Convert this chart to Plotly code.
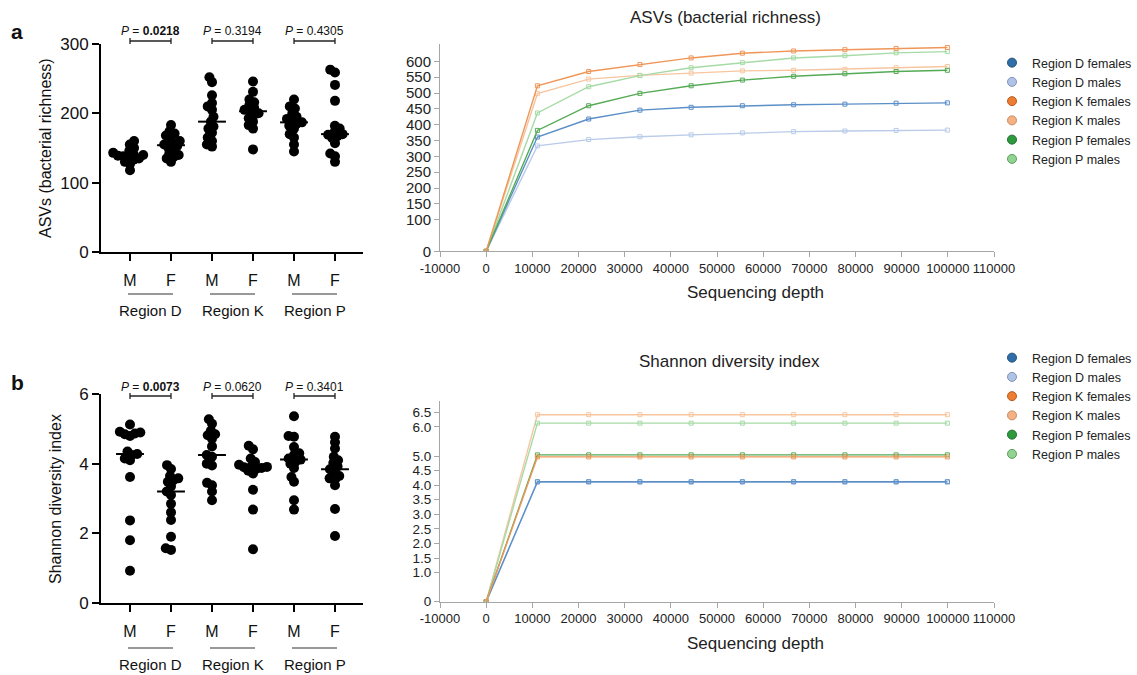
import numpy as np
import plotly.graph_objects as go

W, H = 1137, 675
FONT = "Liberation Sans, Arial, sans-serif"
NARROW = "Liberation Sans Narrow, Liberation Sans, Arial, sans-serif"

# ---------------- data: dot plots ----------------
categories = ["M", "F", "M", "F", "M", "F"]
regions = ["Region D", "Region K", "Region P"]

asv_D_M = [160, 155, 150, 146, 143, 141, 140, 139, 138, 137, 135, 133, 130, 127, 118]
asv_D_F = [183, 174, 171, 168, 165, 160, 157, 155, 153, 150, 147, 142, 140, 137, 135, 130]
asv_K_M = [252, 245, 226, 215, 210, 205, 195, 188, 181, 178, 172, 165, 160, 155, 152]
asv_K_F = [246, 231, 220, 216, 212, 208, 205, 203, 200, 197, 193, 188, 183, 178, 148]
asv_P_M = [220, 210, 207, 200, 195, 192, 190, 187, 185, 182, 178, 170, 165, 155, 145]
asv_P_F = [263, 259, 241, 218, 182, 178, 174, 170, 169, 167, 164, 157, 142, 138, 130]

sh_D_M = [5.13, 4.92, 4.90, 4.87, 4.85, 4.80, 4.35, 4.28, 4.25, 4.15, 4.10, 3.62, 2.37, 1.80, 0.92]
sh_D_F = [3.96, 3.85, 3.65, 3.58, 3.52, 3.48, 3.35, 3.20, 3.10, 2.85, 2.60, 2.38, 1.90, 1.57, 1.52]
sh_K_M = [5.28, 5.15, 4.95, 4.85, 4.82, 4.72, 4.50, 4.25, 4.20, 4.00, 3.95, 3.45, 3.38, 3.20, 2.95]
sh_K_F = [4.52, 4.42, 4.15, 4.05, 3.97, 3.93, 3.91, 3.90, 3.88, 3.85, 3.80, 3.72, 3.25, 2.68, 1.54]
sh_P_M = [5.37, 4.80, 4.78, 4.48, 4.30, 4.25, 4.15, 4.06, 4.00, 3.88, 3.62, 3.48, 2.95, 2.68, 4.12]
sh_P_F = [4.78, 4.62, 4.44, 4.20, 4.10, 4.02, 3.92, 3.84, 3.78, 3.65, 3.58, 3.55, 3.38, 2.70, 1.92]

p_asv = ["0.0218", "0.3194", "0.4305"]
p_asv_sig = [True, False, False]
p_sh = ["0.0073", "0.0620", "0.3401"]
p_sh_sig = [True, False, False]

asv_ticks = [0, 100, 200, 300]
sh_ticks = [0, 2, 4, 6]

# ---------------- data: rarefaction curves ----------------
depth = [0, 11100, 22200, 33300, 44400, 55500, 66600, 77700, 88800, 99900]
series_names = ["Region D females", "Region D males", "Region K females",
                "Region K males", "Region P females", "Region P males"]

rare_asv_D_f = [0, 361, 418, 446, 455, 460, 463, 465, 468, 469]
rare_asv_D_m = [0, 333, 353, 362, 368, 374, 378, 380, 382, 383]
rare_asv_K_f = [0, 523, 568, 590, 611, 626, 633, 637, 641, 644]
rare_asv_K_m = [0, 498, 544, 556, 563, 570, 572, 575, 580, 584]
rare_asv_P_f = [0, 382, 460, 499, 523, 541, 553, 561, 568, 572]
rare_asv_P_m = [0, 437, 520, 555, 580, 596, 611, 618, 627, 631]

rare_sh_D_f = [0, 4.12, 4.12, 4.12, 4.12, 4.12, 4.12, 4.12, 4.12, 4.12]
rare_sh_D_m = [0, 4.10, 4.10, 4.10, 4.10, 4.10, 4.10, 4.10, 4.10, 4.10]
rare_sh_K_f = [0, 4.97, 4.97, 4.97, 4.97, 4.97, 4.97, 4.97, 4.97, 4.97]
rare_sh_K_m = [0, 6.42, 6.42, 6.42, 6.42, 6.42, 6.42, 6.42, 6.42, 6.42]
rare_sh_P_f = [0, 5.04, 5.04, 5.04, 5.04, 5.04, 5.04, 5.04, 5.04, 5.04]
rare_sh_P_m = [0, 6.13, 6.13, 6.13, 6.13, 6.13, 6.13, 6.13, 6.13, 6.13]

depth_ticks = list(range(-10000, 110001, 10000))
depth_ticktext = [str(v) for v in depth_ticks]
rare_asv_ticks = [0, 100, 150, 200, 250, 300, 350, 400, 450, 500, 550, 600]
rare_sh_ticks = [0, 1.0, 1.5, 2.0, 2.5, 3.0, 3.5, 4.0, 4.5, 5.0, 6.0, 6.5]
rare_sh_ticktext = ["0", "1.0", "1.5", "2.0", "2.5", "3.0", "3.5", "4.0", "4.5", "5.0", "6.0", "6.5"]

line_colors = ["#5b8fc7", "#b9cbe8", "#ef9658", "#f7c6a0", "#55aa55", "#a6daa6"]
legend_fill = ["#2f6ea8", "#aec3e6", "#ed7d31", "#f4b183", "#2e9a3e", "#92d292"]
legend_edge = ["#1f4e79", "#7f93b5", "#b85a1e", "#c98a5c", "#1d6b2a", "#5a9e5a"]

# ---------------- layout geometry (pixels) ----------------
def px(x):
    return x / W

def py(y):
    return 1 - y / H

LX = (101, 363)
A_Y = (44, 252)
B_Y = (394.3, 602.7)
RX = (440, 994)
RA_Y = (44, 251.3)
RB_Y = (400.7, 601.7)
CAT0, CATSTEP = 130, 41.0
xr_left = [-(CAT0 - LX[0]) / CATSTEP, 5 + (LX[1] - (CAT0 + 5 * CATSTEP)) / CATSTEP]


def swarm(vals, px_per_val, px_per_cat, d):
    ys = np.asarray(vals, float) * px_per_val
    order = np.argsort(ys)
    placed = []
    xs = np.zeros(len(ys))
    for i in order:
        y = ys[i]
        ivs = []
        for (x2, y2) in placed:
            dy = abs(y - y2)
            if dy < d:
                w = np.sqrt(d * d - dy * dy)
                ivs.append((x2 - w, x2 + w))
        cands = [0.0] + [a for a, b in ivs] + [b for a, b in ivs]
        cands.sort(key=lambda c: (abs(c), c))
        for c in cands:
            if all(not (a + 1e-6 < c < b - 1e-6) for a, b in ivs):
                xs[i] = c
                break
        placed.append((xs[i], y))
    return xs / px_per_cat


fig = go.Figure()

groups_a = [asv_D_M, asv_D_F, asv_K_M, asv_K_F, asv_P_M, asv_P_F]
groups_b = [sh_D_M, sh_D_F, sh_K_M, sh_K_F, sh_P_M, sh_P_F]

for groups, xa, ya, yrng, ypix in [
    (groups_a, "x", "y", 300, A_Y[1] - A_Y[0]),
    (groups_b, "x2", "y2", 6, B_Y[1] - B_Y[0]),
]:
    for gi, vals in enumerate(groups):
        off = swarm(vals, ypix / yrng, CATSTEP, 5.5)
        fig.add_trace(go.Scatter(
            x=gi + off, y=vals, mode="markers", xaxis=xa, yaxis=ya,
            marker=dict(size=10, color="black", line=dict(width=0)),
            showlegend=False, hoverinfo="y", cliponaxis=False))
        med = float(np.median(vals))
        fig.add_trace(go.Scatter(
            x=[gi - 0.34, gi + 0.34], y=[med, med], mode="lines",
            xaxis=xa, yaxis=ya, line=dict(color="black", width=2),
            showlegend=False, hoverinfo="skip"))

asv_series = [rare_asv_D_f, rare_asv_D_m, rare_asv_K_f, rare_asv_K_m, rare_asv_P_f, rare_asv_P_m]
sh_series = [rare_sh_D_f, rare_sh_D_m, rare_sh_K_f, rare_sh_K_m, rare_sh_P_f, rare_sh_P_m]
draw_order = [1, 0, 3, 5, 4, 2]

for series, xa, ya, leg in [(asv_series, "x3", "y3", "legend"), (sh_series, "x4", "y4", "legend2")]:
    for i in draw_order:
        fig.add_trace(go.Scatter(
            x=depth, y=series[i], mode="lines+markers", xaxis=xa, yaxis=ya,
            name=series_names[i], line=dict(color=line_colors[i], width=1.4),
            marker=dict(symbol="square-open", size=4, color=line_colors[i], line=dict(width=1)),
            showlegend=False))
    for i in range(6):
        fig.add_trace(go.Scatter(
            x=[None], y=[None], mode="markers", xaxis=xa, yaxis=ya, legend=leg,
            name=series_names[i],
            marker=dict(symbol="circle", size=9, color=legend_fill[i],
                        line=dict(color=legend_edge[i], width=1))))

left_x = dict(range=xr_left, showline=True, linecolor="black", linewidth=2,
              ticks="outside", ticklen=7, tickwidth=2, tickcolor="black",
              tickvals=list(range(6)), ticktext=categories, showgrid=False, zeroline=False,
              tickfont=dict(family=FONT, size=16, color="#111"), ticklabelstandoff=6,
              fixedrange=True, automargin=False)
left_y = dict(showline=True, linecolor="black", linewidth=2, ticks="outside",
              ticklen=7, tickwidth=2, tickcolor="black", showgrid=False, zeroline=False,
              tickfont=dict(family=FONT, size=17, color="#111"), automargin=False)
right_x = dict(range=[-10000, 110000], showline=True, linecolor="#a6a6a6", linewidth=1,
               ticks="outside", ticklen=5, tickcolor="#a6a6a6", tickvals=depth_ticks,
               ticktext=depth_ticktext, showgrid=False, zeroline=False, tickangle=0,
               tickfont=dict(family=FONT, size=13, color="#222"), automargin=False)
right_y = dict(showline=True, linecolor="#a6a6a6", linewidth=1, ticks="outside",
               ticklen=5, tickcolor="#a6a6a6", showgrid=False, zeroline=False,
               tickfont=dict(family=FONT, size=15, color="#222"), automargin=False)

legend_style = dict(xanchor="right", yanchor="top", bgcolor="rgba(0,0,0,0)",
                    font=dict(family=FONT, size=12.5, color="#222"), itemwidth=30,
                    tracegroupgap=0, borderwidth=0)

fig.update_layout(
    width=W, height=H, margin=dict(l=0, r=0, t=0, b=0, pad=0, autoexpand=False),
    paper_bgcolor="white", plot_bgcolor="white",
    font=dict(family=FONT, color="#111"),
    xaxis=dict(left_x, domain=[px(LX[0]), px(LX[1])], anchor="y"),
    yaxis=dict(left_y, domain=[py(A_Y[1]), py(A_Y[0])], range=[0, 300], tickvals=asv_ticks, anchor="x"),
    xaxis2=dict(left_x, domain=[px(LX[0]), px(LX[1])], anchor="y2"),
    yaxis2=dict(left_y, domain=[py(B_Y[1]), py(B_Y[0])], range=[0, 6], tickvals=sh_ticks, anchor="x2"),
    xaxis3=dict(right_x, domain=[px(RX[0]), px(RX[1])], anchor="y3"),
    yaxis3=dict(right_y, domain=[py(RA_Y[1]), py(RA_Y[0])], range=[0, 655], tickvals=rare_asv_ticks, anchor="x3"),
    xaxis4=dict(right_x, domain=[px(RX[0]), px(RX[1])], anchor="y4"),
    yaxis4=dict(right_y, domain=[py(RB_Y[1]), py(RB_Y[0])], range=[0, 6.9], tickvals=rare_sh_ticks,
                ticktext=rare_sh_ticktext, anchor="x4", tickfont=dict(family=FONT, size=13.5, color="#222")),
    legend=dict(legend_style, x=1, y=py(48)),
    legend2=dict(legend_style, x=1, y=py(343)),
)

annotations = []
shapes = []

def add_text(text, x, y, size, xref="paper", family=FONT, angle=0, color="#111"):
    annotations.append(dict(text=text, x=x, y=y, xref=xref, yref="paper", showarrow=False,
                            xanchor="center", yanchor="middle", textangle=angle,
                            font=dict(family=family, size=size, color=color)))

# panel letters
add_text("<b>a</b>", px(17), py(31), 21)
add_text("<b>b</b>", px(17), py(383), 21)
# y-axis titles of dot plots
add_text("ASVs (bacterial richness)", px(45), py(148), 16, angle=-90)
add_text("Shannon diversity index", px(55), py(499), 16, angle=-90)

for xa, pvals, sig, ptxt_y, br_y, ul_y, reg_y in [
    ("x", p_asv, p_asv_sig, 31, 41, 294, 311),
    ("x2", p_sh, p_sh_sig, 387, 396, 648, 664),
]:
    for k in range(3):
        a, b = 2 * k, 2 * k + 1
        val = f"<b>{pvals[k]}</b>" if sig[k] else pvals[k]
        add_text(f"<i>P</i> = {val}", (a + b) / 2, py(ptxt_y), 12, xref=xa, family=NARROW)
        shapes.append(dict(type="line", xref=xa, yref="paper", x0=a, x1=b, y0=py(br_y), y1=py(br_y),
                           line=dict(color="#222", width=1.3)))
        for xe in (a, b):
            shapes.append(dict(type="line", xref=xa, yref="paper", x0=xe, x1=xe,
                               y0=py(br_y - 3), y1=py(br_y + 3), line=dict(color="#222", width=1.3)))
        shapes.append(dict(type="line", xref=xa, yref="paper", x0=a - 0.05, x1=b + 0.05,
                           y0=py(ul_y), y1=py(ul_y), line=dict(color="#333", width=1.2)))
        add_text(regions[k], (a + b) / 2, py(reg_y), 15, xref=xa)

# right panel titles and x-axis titles
add_text("ASVs (bacterial richness)", px(725), py(17), 17, color="#222")
add_text("Sequencing depth", px(755), py(292), 17, color="#222")
add_text("Shannon diversity index", px(730), py(361), 17, color="#222")
add_text("Sequencing depth", px(755), py(643), 17, color="#222")

fig.update_layout(annotations=annotations, shapes=shapes)
fig.write_html("out.html")
